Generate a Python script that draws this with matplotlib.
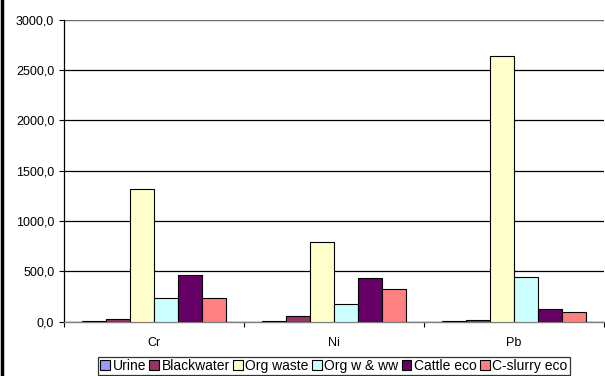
import matplotlib
matplotlib.use("Agg")
import matplotlib.pyplot as plt
import numpy as np
from matplotlib.ticker import FuncFormatter, FixedLocator

plt.rcParams['font.family'] = ['Liberation Sans', 'DejaVu Sans']

metals = ["Cr", "Ni", "Pb"]
series = ["Urine", "Blackwater", "Org waste", "Org w & ww", "Cattle eco", "C-slurry eco"]
urine = [8, 6, 3]
blackwater = [22, 57, 17]
org_waste = [1315, 795, 2640]
org_w_ww = [232, 172, 442]
cattle_eco = [465, 430, 125]
c_slurry_eco = [232, 325, 97]
values = [urine, blackwater, org_waste, org_w_ww, cattle_eco, c_slurry_eco]
colors = ["#9999FF", "#993366", "#FFFFCC", "#CCFFFF", "#660066", "#FF8080"]
y_ticks = [0, 500, 1000, 1500, 2000, 2500, 3000]

fig = plt.figure(figsize=(6.05, 3.76), dpi=100)
ax = fig.add_axes([64 / 605, 1 - 321.5 / 376, 540 / 605, 301.5 / 376])

x = np.arange(len(metals))
n = len(series)
group = 0.8
w = group / n
for i, (name, vals, col) in enumerate(zip(series, values, colors)):
    ax.bar(x - group / 2 + w * (i + 0.5), vals, width=w, color=col,
           edgecolor="black", linewidth=0.8, label=name, zorder=3)

ax.set_xlim(-0.5, len(metals) - 0.5)
ax.set_ylim(0, 3000)
ax.yaxis.set_major_locator(FixedLocator(y_ticks))
ax.yaxis.set_major_formatter(FuncFormatter(lambda v, p: f"{v:.1f}".replace(".", ",")))
ax.grid(axis="y", color="black", linewidth=0.9, zorder=0)
ax.set_axisbelow(True)

ax.set_xticks(x)
ax.set_xticklabels(metals)
ax.set_xticks(np.arange(-0.5, len(metals), 1.0), minor=True)
ax.tick_params(axis="x", which="major", length=0, pad=11, labelsize=9)
ax.tick_params(axis="x", which="minor", length=3.5, width=0.8, direction="out")
ax.tick_params(axis="y", length=3.5, width=0.8, direction="out", labelsize=9, pad=3.5)

for side in ["top", "right"]:
    ax.spines[side].set_visible(False)
ax.spines["left"].set_color("black")
ax.spines["bottom"].set_color("#808080")
ax.spines["left"].set_linewidth(0.9)
ax.spines["bottom"].set_linewidth(1.0)
ax.axhline(3000, color="#808080", linewidth=1.2, zorder=1)

leg = fig.legend(loc="lower left", bbox_to_anchor=(98 / 605, 1 / 376), ncol=6,
                 fontsize=10, frameon=True, fancybox=False, handlelength=0.7,
                 handleheight=0.7, handletextpad=0.2, columnspacing=0.22,
                 borderpad=0.15, borderaxespad=0)
leg.get_frame().set_edgecolor("black")
leg.get_frame().set_linewidth(0.9)
for h in leg.legend_handles:
    h.set_edgecolor("black")
    h.set_linewidth(0.8)

# dark frame edge on the left side of the chart
fig.add_artist(plt.Line2D([1.5 / 605, 1.5 / 605], [0, 1], color="black",
                          linewidth=2.5, transform=fig.transFigure))

fig.savefig("out.png", dpi=100)
